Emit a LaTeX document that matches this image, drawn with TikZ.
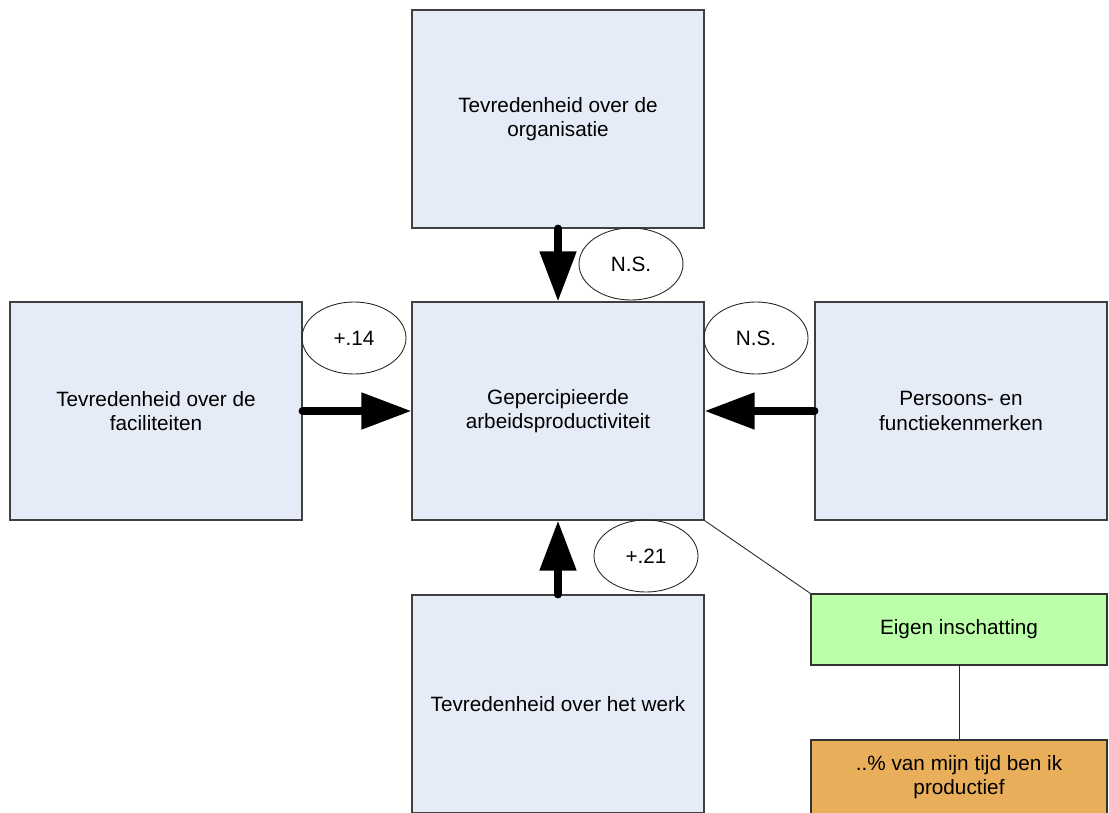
\documentclass[tikz,border=0pt]{standalone}
\usepackage{fontspec}
\setmainfont{Liberation Sans}
\usetikzlibrary{arrows.meta,shapes.geometric}
\definecolor{boxblue}{RGB}{230,236,247}
\definecolor{boxgreen}{RGB}{187,255,168}
\definecolor{boxorange}{RGB}{232,174,90}
\begin{document}
\begin{tikzpicture}[every node/.style={font=\fontsize{11.8}{13.8}\selectfont, align=center}]
		\useasboundingbox (0,0) rectangle (22.18,16.24);
		\clip (0,0) rectangle (22.18,16.24);
		\begin{scope}[every node/.style={draw=black!75, fill=boxblue, line width=0.6pt, minimum width=5.84cm, minimum height=4.36cm, font=\fontsize{11.8}{13.8}\selectfont, align=center}]
			\node (org) at (11.16,13.86) {Tevredenheid over de\\organisatie};
			\node (prod) at (11.16,8.02) {Gepercipieerde\\arbeidsproductiviteit};
			\node (fac) at (3.12,8.02) {Tevredenheid over de\\faciliteiten};
			\node (pers) at (19.22,8.02) {Persoons- en\\functiekenmerken};
			\node (werk) at (11.16,2.16) {Tevredenheid over het werk};
		\end{scope}
		\begin{scope}[every node/.style={draw=black!80, line width=0.6pt, minimum width=5.92cm, font=\fontsize{11.8}{13.8}\selectfont, align=center}]
			\node (eigen)[fill=boxgreen, minimum height=1.42cm] at (19.18,3.65) {Eigen inschatting};
			\node (tijd)[fill=boxorange, minimum height=1.5cm] at (19.18,0.69) {..\% van mijn tijd ben ik\\productief};
		\end{scope}
		\begin{scope}[every node/.style={draw=black!85, ellipse, line width=0.5pt, minimum width=2.08cm, minimum height=1.44cm, inner sep=0pt, font=\fontsize{11.8}{13.8}\selectfont}]
			\node (ns1) at (12.62,10.96) {N.S.};
			\node (p14) at (7.08,9.48) {+.14};
			\node (ns2) at (15.12,9.48) {N.S.};
			\node (p21) at (12.92,5.12) {+.21};
		\end{scope}
		\begin{scope}[every edge/.style={draw, line width=4.5pt, line cap=round, -{Triangle[length=1cm,width=0.7cm]}}]
			\path (org.south) edge (prod.north);
			\path (fac.east) edge (prod.west);
			\path (pers.west) edge (prod.east);
			\path (werk.north) edge (prod.south);
		\end{scope}
		\draw [black!85, line width=0.5pt] (prod.south east) -- (eigen.north west);
		\draw [black!85, line width=0.5pt] (eigen.south) -- (tijd.north);
	\end{tikzpicture}
\end{document}
